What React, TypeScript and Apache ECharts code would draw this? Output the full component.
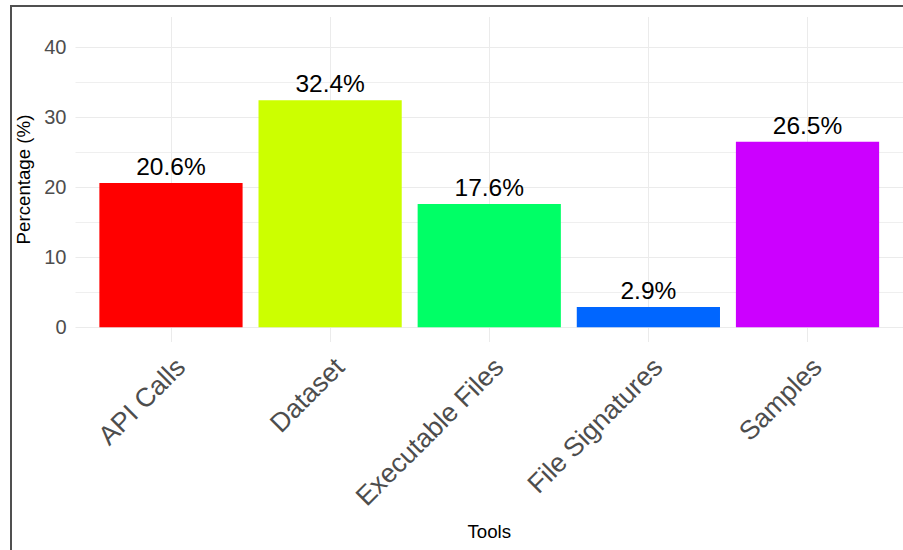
import React, { useEffect, useRef } from "react";
import * as echarts from "echarts";

const categories: string[] = ["API Calls", "Dataset", "Executable Files", "File Signatures", "Samples"];
const percentages: number[] = [20.6, 32.4, 17.6, 2.9, 26.5];
const barColors: string[] = ["#FF0000", "#CCFF00", "#00FF66", "#0066FF", "#CC00FF"];
const yTickLabels: number[] = [0, 10, 20, 30, 40];

const FONT = "'Liberation Sans', Arial, sans-serif";

export default function App() {
  const ref = useRef<HTMLDivElement>(null);

  useEffect(() => {
    if (!ref.current) return;
    const chart = echarts.init(ref.current, null, { renderer: "svg" });
    const option: any = {
      animation: false,
      backgroundColor: "#ffffff",
      textStyle: { fontFamily: FONT },
      graphic: [
        {
          type: "rect",
          shape: { x: 11, y: 6, width: 1200, height: 1200 },
          style: { fill: "none", stroke: "#505050", lineWidth: 2 },
          silent: true,
          z: 100,
        },
      ],
      grid: { left: 75.5, top: 17, right: -4.5, bottom: 208, containLabel: false },
      xAxis: {
        type: "value",
        min: 0.4,
        max: 5.6,
        name: "Tools",
        nameLocation: "middle",
        nameGap: 180,
        nameTextStyle: { fontSize: 18.7, color: "#000000", fontFamily: FONT },
        axisLine: { show: false },
        axisTick: { show: false },
        axisLabel: {
          show: true,
          rotate: 45,
          fontSize: 26.7,
          color: "#4D4D4D",
          fontFamily: FONT,
          margin: 11,
          verticalAlign: "top",
          showMinLabel: false,
          showMaxLabel: false,
          formatter: (v: number) =>
            Number.isInteger(v) && v >= 1 && v <= categories.length ? categories[v - 1] : "",
        },
        splitLine: {
          show: true,
          showMinLine: false,
          showMaxLine: false,
          lineStyle: { color: "#EBEBEB", width: 1 },
        },
      },
      yAxis: {
        type: "value",
        min: -2.11,
        max: 44.3,
        name: "Percentage (%)",
        nameLocation: "middle",
        nameGap: 37,
        nameRotate: 90,
        nameTextStyle: { fontSize: 18.7, color: "#000000", fontFamily: FONT },
        axisLine: { show: false },
        axisTick: { show: false },
        axisLabel: {
          fontSize: 20,
          color: "#4D4D4D",
          fontFamily: FONT,
          margin: 9,
          showMinLabel: false,
          showMaxLabel: false,
          formatter: (v: number) => (yTickLabels.indexOf(v) >= 0 ? String(v) : ""),
        },
        splitLine: {
          show: true,
          showMinLine: false,
          showMaxLine: false,
          lineStyle: { color: "#EBEBEB", width: 1 },
        },
        minorTick: { show: false, splitNumber: 2 },
        minorSplitLine: { show: true, lineStyle: { color: "#EFEFEF", width: 1 } },
      },
      series: [
        {
          type: "bar",
          barWidth: "90%",
          data: categories.map((c, i) => ({
            name: c,
            value: [i + 1, percentages[i]],
            itemStyle: { color: barColors[i] },
          })),
          label: {
            show: true,
            position: "top",
            distance: 4,
            fontSize: 24.5,
            color: "#000000",
            fontFamily: FONT,
            formatter: (p: any) => p.value[1].toFixed(1) + "%",
          },
        },
      ],
    };
    chart.setOption(option);
    return () => chart.dispose();
  }, []);

  return (
    <div
      ref={ref}
      style={{ position: "fixed", left: 0, top: 0, width: 903, height: 550 }}
    />
  );
}
